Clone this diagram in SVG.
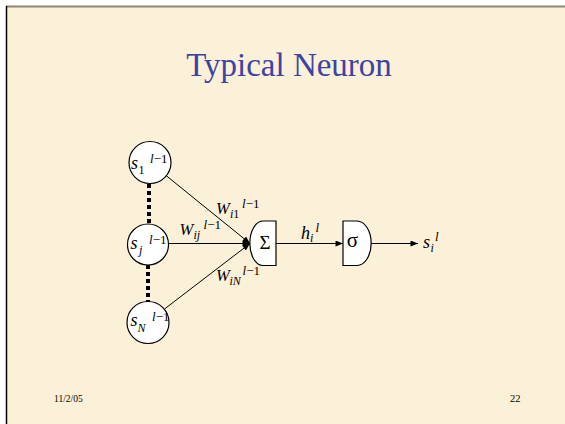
<svg xmlns="http://www.w3.org/2000/svg" width="565" height="424" viewBox="0 0 565 424">
<defs>
<marker id="ah" viewBox="0 0 10 8" refX="10" refY="4" markerWidth="8" markerHeight="6" markerUnits="userSpaceOnUse" orient="auto">
<path d="M0,0 L10,4 L0,8 Z" fill="#000"/>
</marker>
</defs>
<style>
.t{font-family:"Liberation Serif","Times New Roman",serif;fill:#000}
.it{font-style:italic}
.node{fill:#fff;stroke:#000;stroke-width:1.2}
.ln{stroke:#000;stroke-width:1;fill:none}
.dots{stroke:#000;stroke-width:4;stroke-dasharray:4 3;fill:none}
</style>
<rect x="0" y="0" width="565" height="424" fill="#fff"/>
<rect x="6" y="6" width="559" height="418" fill="#fbf1d9"/>
<line x1="6" y1="6.5" x2="565" y2="6.5" stroke="#8c8574" stroke-width="2"/>
<line x1="6.5" y1="6" x2="6.5" y2="424" stroke="#000" stroke-width="1.5"/>

<text class="t" x="289" y="76" font-size="33" style="fill:#3d43a3" text-anchor="middle">Typical Neuron</text>

<g id="connectors">
<path class="dots" d="M149,184 V224"/>
<path class="dots" d="M148,265 V302"/>
<line class="ln" x1="166" y1="175.5" x2="250" y2="243.5" marker-end="url(#ah)"/>
<line class="ln" x1="168.5" y1="243.5" x2="250" y2="243.5" marker-end="url(#ah)"/>
<line class="ln" x1="164.5" y1="309" x2="250" y2="243.5" marker-end="url(#ah)"/>
<line class="ln" x1="276" y1="243.5" x2="343" y2="243.5" marker-end="url(#ah)"/>
<line class="ln" x1="371" y1="243.5" x2="418" y2="243.5" marker-end="url(#ah)"/>
</g>

<g id="s1">
<circle class="node" cx="150" cy="162.5" r="21"/>
<text class="t it" x="131" y="168.5" font-size="18">s</text>
<text class="t" x="138.5" y="174" font-size="12">1</text>
<text class="t" x="150" y="163" font-size="13"><tspan font-style="italic">l</tspan>−1</text>
</g>

<g id="sj">
<circle class="node" cx="148" cy="244.5" r="20.5"/>
<text class="t it" x="130.5" y="249" font-size="18">s</text>
<text class="t it" x="139" y="253.5" font-size="12">j</text>
<text class="t" x="149" y="243.5" font-size="13"><tspan font-style="italic">l</tspan>−1</text>
</g>

<g id="sN">
<circle class="node" cx="148" cy="322.5" r="21"/>
<text class="t it" x="130.5" y="326" font-size="18">s</text>
<text class="t it" x="137.5" y="332" font-size="12">N</text>
<text class="t" x="152" y="320.5" font-size="13"><tspan font-style="italic">l</tspan>−1</text>
</g>

<g id="sum">
<path class="node" d="M276,221 H263 A13,22 0 0 0 263,265.5 H276 Z"/>
<text class="t" x="265" y="249" font-size="19" text-anchor="middle">Σ</text>
</g>

<g id="sigma">
<path class="node" d="M343,221 H357 A14,22 0 0 1 357,265.5 H343 Z"/>
<text class="t" x="352.5" y="247" font-size="21" text-anchor="middle">σ</text>
</g>

<g id="labels">
<text class="t it" x="216" y="213.5" font-size="16.5">W</text>
<text class="t it" x="230" y="217.5" font-size="12">i<tspan font-style="normal">1</tspan></text>
<text class="t" x="242" y="207.5" font-size="13"><tspan font-style="italic">l</tspan>−1</text>

<text class="t it" x="179.5" y="234.5" font-size="16.5">W</text>
<text class="t it" x="193.5" y="238.5" font-size="12">ij</text>
<text class="t" x="203.5" y="228.5" font-size="13"><tspan font-style="italic">l</tspan>−1</text>

<text class="t it" x="216" y="281" font-size="16.5">W</text>
<text class="t it" x="229.5" y="285" font-size="12">iN</text>
<text class="t" x="242.5" y="274.5" font-size="13"><tspan font-style="italic">l</tspan>−1</text>

<text class="t it" x="301" y="238.5" font-size="18">h</text>
<text class="t it" x="310" y="242" font-size="12">i</text>
<text class="t it" x="315.5" y="231.5" font-size="13">l</text>

<text class="t it" x="423" y="248" font-size="18">s</text>
<text class="t it" x="430.5" y="251.5" font-size="12">i</text>
<text class="t it" x="435" y="240.5" font-size="13">l</text>
</g>

<text class="t" x="54" y="401.5" font-size="9.5">11/2/05</text>
<text class="t" x="510" y="401.5" font-size="10.5">22</text>
</svg>
